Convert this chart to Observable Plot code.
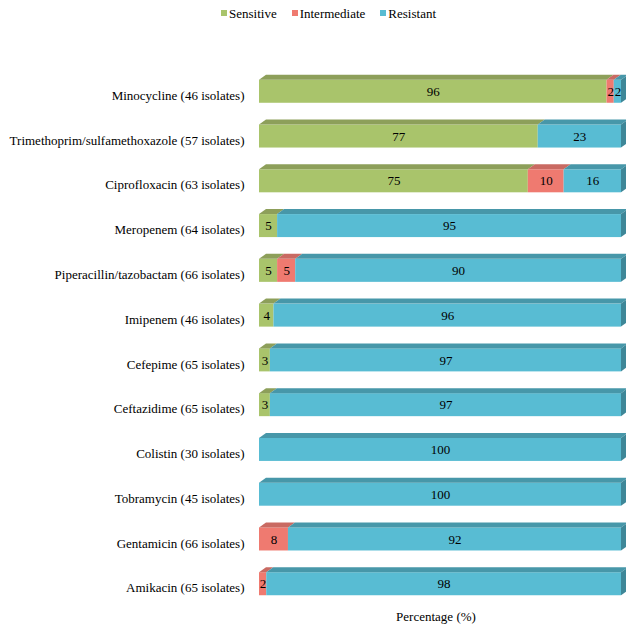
<!DOCTYPE html>
<html><head><meta charset="utf-8">
<script src="https://cdn.jsdelivr.net/npm/d3@7"></script>
<script src="https://cdn.jsdelivr.net/npm/@observablehq/plot@0.6"></script>
<style>
body{margin:0;background:#fff;font-family:"Liberation Serif","Times New Roman",serif;color:#000;}
#wrap{position:relative;width:626px;height:633px;overflow:hidden;}
#legend{position:absolute;left:221px;top:6px;height:16px;display:flex;align-items:center;font-size:13px;line-height:16px;}
#legend .item{display:flex;align-items:center;margin-right:15px;}
#legend .sw{width:6px;height:6px;margin-right:2px;margin-top:-2px;}
#chart{position:absolute;left:0;top:28px;}
#caption{position:absolute;left:336px;width:200px;top:609px;text-align:center;font-size:13px;line-height:16px;}
</style></head>
<body><div id="wrap"><div id="legend"></div><div id="chart"></div><div id="caption">Percentage (%)</div></div>
<script>
const drugs = [
  "Minocycline (46 isolates)",
  "Trimethoprim/sulfamethoxazole (57 isolates)",
  "Ciprofloxacin (63 isolates)",
  "Meropenem (64 isolates)",
  "Piperacillin/tazobactam (66 isolates)",
  "Imipenem (46 isolates)",
  "Cefepime (65 isolates)",
  "Ceftazidime (65 isolates)",
  "Colistin (30 isolates)",
  "Tobramycin (45 isolates)",
  "Gentamicin (66 isolates)",
  "Amikacin (65 isolates)"
];
const sensitive    = [96, 77, 75, 5, 5, 4, 3, 3, 0, 0, 0, 0];
const intermediate = [2, 0, 10, 0, 5, 0, 0, 0, 0, 0, 8, 2];
const resistant    = [2, 23, 16, 95, 90, 96, 97, 97, 100, 100, 92, 98];
const types = ["Sensitive", "Intermediate", "Resistant"];
const frontColors = ["#a9c46b", "#ef7a70", "#58bcd3"];
const topColors = ["#8d9f5a", "#c96a62", "#4797a9"];
const sideColor = "#3e8798";

// legend
const legend = document.getElementById("legend");
types.forEach((t, i) => {
  const it = document.createElement("div"); it.className = "item";
  const sw = document.createElement("div"); sw.className = "sw"; sw.style.background = frontColors[i];
  const tx = document.createElement("span"); tx.textContent = t;
  it.appendChild(sw); it.appendChild(tx); legend.appendChild(it);
});

const series = [sensitive, intermediate, resistant];
const rows = [];
drugs.forEach((d, i) => {
  types.forEach((t, j) => {
    const v = series[j][i];
    if (v > 0) rows.push({drug: d, type: t, value: v, front: frontColors[j], top: topColors[j]});
  });
});

const stackOpts = {x: "value", y: "drug", z: "type", offset: "normalize", order: types};
const plot = Plot.plot({
  width: 626, height: 605,
  marginLeft: 259, marginRight: 5, marginTop: 30, marginBottom: 16,
  x: {domain: [0, 1], axis: null},
  y: {domain: drugs, padding: 0.486, round: false, axis: null},
  color: {type: "identity"},
  style: {fontFamily: "'Liberation Serif','Times New Roman',serif", fontSize: "13px", background: "white", color: "black"},
  marks: [
    Plot.barX(rows, Plot.stackX({...stackOpts, fill: "front"})),
    Plot.barX(rows, Plot.stackX({...stackOpts, fill: "top"})),
    Plot.text(rows, Plot.stackX({...stackOpts, text: "value", fill: "black", fontSize: 13})),
    Plot.text(drugs, {x: () => 0, y: d => d, text: d => d, textAnchor: "end", dx: -15, dy: 4, fill: "black", fontSize: 13})
  ]
});

// turn top-face rects into 3D bevel parallelograms
const ddx = 7, ddy = 5;
const xmax = 626 - 5;
const topSet = new Set(topColors.map(c => d3.color(c).formatHex()));
d3.select(plot).selectAll("rect").each(function() {
  const r = d3.select(this);
  const f = r.attr("fill");
  if (!f) return;
  const c = d3.color(f);
  if (!c || !topSet.has(c.formatHex())) return;
  const x = +r.attr("x"), y = +r.attr("y"), w = +r.attr("width"), h = +r.attr("height");
  const g = d3.select(this.parentNode);
  g.append("path")
    .attr("d", `M${x},${y}L${x + w},${y}L${x + w + ddx},${y - ddy}L${x + ddx},${y - ddy}Z`)
    .attr("fill", f);
  if (Math.abs(x + w - xmax) < 1.5) {
    g.append("path")
      .attr("d", `M${x + w},${y}L${x + w + ddx},${y - ddy}L${x + w + ddx},${y + h - ddy}L${x + w},${y + h}Z`)
      .attr("fill", sideColor);
  }
  r.remove();
});

document.getElementById("chart").appendChild(plot);
</script>
</body></html>
